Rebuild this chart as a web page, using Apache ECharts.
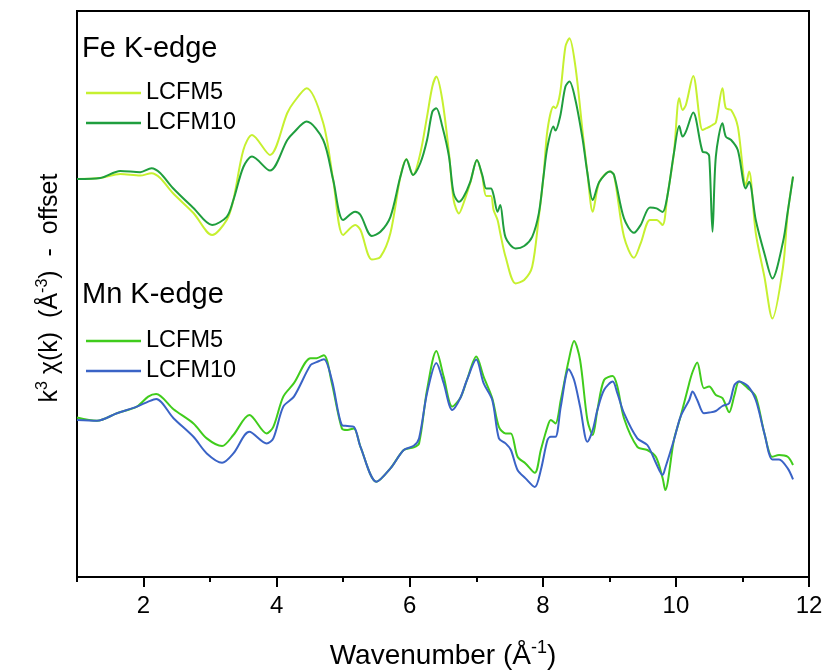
<!DOCTYPE html>
<html>
<head>
<meta charset="utf-8">
<title>EXAFS k3-weighted spectra</title>
<script src="https://cdn.jsdelivr.net/npm/echarts@6/dist/echarts.min.js"></script>
<style>
  html, body { margin: 0; padding: 0; background: #ffffff; }
  #chart { width: 827px; height: 671px; }
</style>
</head>
<body>
<div id="chart"></div>
<script>
// k-space EXAFS, k^3-weighted, Fe and Mn K-edges (arbitrary units, stacked with an offset)
const feK = [1.00,1.35,1.65,1.95,2.12,2.25,2.44,2.75,3.03,3.25,3.35,3.50,3.63,3.90,4.16,4.25,4.45,4.70,4.85,5.00,
  5.18,5.26,5.43,5.56,5.71,5.86,5.95,6.05,6.16,6.26,6.34,6.40,6.49,6.59,6.66,6.74,6.81,6.91,7.01,7.09,
  7.15,7.22,7.26,7.32,7.36,7.44,7.59,7.72,7.84,7.94,8.01,8.07,8.16,8.19,8.26,8.34,8.40,8.49,8.60,8.67,
  8.75,8.85,9.01,9.07,9.22,9.37,9.47,9.61,9.71,9.80,9.87,9.97,10.05,10.10,10.15,10.26,10.40,10.46,10.50,10.55,
  10.60,10.70,10.75,10.83,10.93,11.05,11.10,11.20,11.33,11.45,11.61,11.68,11.76];
const feLCFM5 = [0.05,0.10,0.30,0.22,0.34,0.10,-0.65,-1.65,-2.75,-2.00,-1.00,1.50,2.25,1.25,3.35,3.85,4.59,2.85,0.00,-2.75,
  -2.25,-2.50,-3.97,-3.84,-2.65,0.17,1.04,0.25,1.35,3.17,4.67,5.17,4.00,1.34,-1.00,-1.67,-1.15,-0.14,1.00,0.17,
  -0.80,-0.80,-1.50,-2.00,-2.65,-3.84,-5.17,-5.00,-4.34,-1.84,0.17,2.50,3.67,3.59,4.34,6.67,7.09,5.67,2.35,0.35,
  -1.59,-0.09,0.42,0.25,-2.84,-3.89,-3.17,-2.00,-2.00,-2.25,-0.84,1.34,4.09,3.50,3.75,5.20,2.50,2.59,2.65,2.75,
  2.87,4.59,3.59,3.50,2.67,-0.25,0.42,-2.65,-4.84,-6.92,-4.34,-1.67,0.17];
const feLCFM10 = [0.05,0.10,0.45,0.39,0.59,0.35,-0.40,-1.40,-2.25,-1.84,-1.00,0.65,1.17,0.47,2.00,2.35,2.92,2.00,0.00,-2.00,
  -1.59,-1.75,-2.80,-2.59,-1.84,0.17,1.04,0.25,0.85,2.00,3.42,3.59,2.67,1.17,-0.67,-1.09,-0.84,-0.09,1.00,0.25,
  -0.42,-0.42,-0.75,-1.59,-1.25,-2.87,-3.42,-3.30,-2.84,-1.67,0.17,1.67,2.67,2.47,3.17,4.67,4.92,4.00,2.00,0.35,
  -1.00,-0.09,0.42,0.25,-1.92,-2.64,-2.25,-1.37,-1.42,-1.60,-0.84,1.34,2.70,2.17,2.42,3.37,1.42,1.37,1.20,-2.59,
  1.17,2.84,2.17,2.00,1.50,-0.42,-0.09,-2.00,-3.67,-4.92,-3.09,-1.59,0.17];

const mnK = [1.00,1.30,1.60,1.90,2.07,2.19,2.45,2.75,2.95,3.18,3.35,3.59,3.85,3.95,4.10,4.26,4.51,4.60,4.71,4.83,
  4.98,5.06,5.16,5.26,5.50,5.71,5.91,6.06,6.14,6.26,6.40,6.51,6.64,6.76,6.86,7.00,7.11,7.24,7.34,7.44,
  7.52,7.62,7.74,7.88,7.97,8.07,8.12,8.19,8.27,8.39,8.47,8.56,8.67,8.75,8.82,8.92,9.05,9.12,9.22,9.42,
  9.57,9.70,9.80,9.84,9.97,10.07,10.20,10.25,10.32,10.42,10.50,10.60,10.70,10.80,10.88,10.95,11.08,11.20,11.33,11.45,
  11.55,11.68,11.76];
const mnLCFM5 = [0.12,-0.04,0.34,0.67,1.17,1.30,0.54,-0.17,-0.92,-1.30,-0.75,0.25,-0.67,-0.34,1.17,1.84,3.09,3.09,3.24,1.84,
  -0.42,-0.50,-0.42,-1.34,-3.09,-2.42,-1.50,-1.37,-1.17,1.50,3.45,2.17,0.67,1.10,2.00,3.17,2.17,1.09,-0.34,-0.67,
  -0.67,-1.84,-2.17,-2.64,-1.50,-0.34,0.00,-0.17,1.00,3.00,3.95,3.00,0.00,-0.75,0.50,2.00,2.20,1.67,0.09,-1.34,
  -1.50,-1.85,-2.90,-3.50,-1.00,0.17,1.84,2.40,2.87,1.59,1.67,1.25,1.09,0.39,1.25,1.92,1.59,1.17,-0.67,-1.84,
  -1.75,-1.84,-2.25];
const mnLCFM10 = [0.00,-0.04,0.34,0.67,0.92,1.05,0.09,-0.84,-1.67,-2.14,-1.67,-0.59,-1.17,-0.92,0.67,1.17,2.75,2.89,3.04,2.00,
  -0.25,-0.30,-0.34,-1.34,-3.09,-2.42,-1.50,-1.29,-0.92,1.34,2.85,1.84,0.50,1.10,2.00,3.02,1.84,1.00,-0.92,-1.17,
  -1.50,-2.50,-2.92,-3.35,-2.50,-1.00,-0.84,-0.84,0.67,2.54,2.00,0.67,-1.09,-0.50,0.50,1.50,1.92,1.34,0.34,-0.92,
  -1.25,-2.15,-2.75,-2.40,-1.00,0.17,1.00,1.42,1.00,0.34,0.37,0.45,0.70,0.84,1.75,1.92,1.70,1.00,-0.67,-1.97,
  -1.97,-2.42,-2.97];

// vertical offsets used to stack the two edges
const feOffset = 12;
const mnOffset = 0;

const xMajorTicks = [2, 4, 6, 8, 10, 12];
const xMinorTicks = [1, 3, 5, 7, 9, 11];

const FONT = '"Liberation Sans", Arial, Helvetica, sans-serif';

function pairs(ks, vs, offset) {
  return ks.map((k, i) => [k, vs[i] + offset]);
}

const chart = echarts.init(document.getElementById('chart'), null, { renderer: 'canvas' });

const lineSeries = (name, ks, vs, offset, color) => ({
  name: name,
  type: 'line',
  data: pairs(ks, vs, offset),
  showSymbol: false,
  smooth: 0.3,
  lineStyle: { width: 2, color: color },
  itemStyle: { color: color },
  emphasis: { disabled: true },
  animation: false,
  z: 3
});

const legendCommon = {
  orient: 'vertical',
  left: 86,
  padding: 0,
  icon: 'rect',
  itemWidth: 55,
  itemHeight: 2.5,
  itemGap: 6,
  selectedMode: false,
  formatter: name => name.split(' ')[1],
  textStyle: { fontSize: 23.5, color: '#000', fontFamily: FONT }
};

const edgeTitle = (text, top) => ({
  text: text, left: 82, top: top, padding: 0,
  textStyle: { fontSize: 29, fontWeight: 'normal', color: '#000', fontFamily: FONT }
});

chart.setOption({
  backgroundColor: '#ffffff',
  animation: false,
  title: [edgeTitle('Fe K-edge', 34), edgeTitle('Mn K-edge', 280)],
  legend: [
    Object.assign({}, legendCommon, { top: 81, data: ['Fe LCFM5', 'Fe LCFM10'] }),
    Object.assign({}, legendCommon, { top: 329, data: ['Mn LCFM5', 'Mn LCFM10'] })
  ],
  grid: {
    left: 77, right: 18, top: 11, bottom: 94,
    outerBoundsMode: 'none',
    containLabel: false,
    show: true, borderColor: '#000', borderWidth: 2, backgroundColor: 'transparent'
  },
  xAxis: [
    {
      type: 'value', min: 1, max: 12, position: 'bottom',
      axisLine: { show: false, onZero: false },
      axisTick: { show: true, inside: false, length: 10, customValues: xMajorTicks,
        lineStyle: { color: '#000', width: 2 } },
      axisLabel: { show: true, customValues: xMajorTicks, margin: 17,
        fontSize: 24, color: '#000', fontFamily: FONT },
      splitLine: { show: false },
      name: '{n|Wavenumber (Å}{s|-1}{n|)}',
      nameLocation: 'middle',
      nameGap: 62,
      nameTextStyle: {
        rich: {
          n: { fontSize: 28, color: '#000', fontFamily: FONT, lineHeight: 34 },
          s: { fontSize: 18, color: '#000', fontFamily: FONT, verticalAlign: 'top', lineHeight: 20 }
        }
      }
    },
    {
      type: 'value', min: 1, max: 12, position: 'bottom',
      axisLine: { show: false, onZero: false },
      axisTick: { show: true, inside: false, length: 5, customValues: xMinorTicks,
        lineStyle: { color: '#000', width: 2 } },
      axisLabel: { show: false },
      splitLine: { show: false }
    }
  ],
  yAxis: {
    type: 'value', min: -7.85, max: 20.45,
    axisLine: { show: false },
    axisTick: { show: false },
    axisLabel: { show: false },
    splitLine: { show: false },
    name: '{n|k}{s|3}{n| χ(k)  (Å}{s|-3}{n|)  -  offset}',
    nameLocation: 'middle',
    nameRotate: 90,
    nameGap: 12,
    nameTextStyle: {
      padding: [0, 0, 0, 12],
      rich: {
        n: { fontSize: 25, color: '#000', fontFamily: FONT, lineHeight: 30 },
        s: { fontSize: 16, color: '#000', fontFamily: FONT, verticalAlign: 'top', lineHeight: 18 }
      }
    }
  },
  series: [
    lineSeries('Fe LCFM5', feK, feLCFM5, feOffset, '#c6f030'),
    lineSeries('Fe LCFM10', feK, feLCFM10, feOffset, '#1f9e3e'),
    lineSeries('Mn LCFM5', mnK, mnLCFM5, mnOffset, '#40cc1c'),
    lineSeries('Mn LCFM10', mnK, mnLCFM10, mnOffset, '#3a63c6')
  ]
});
</script>
</body>
</html>
